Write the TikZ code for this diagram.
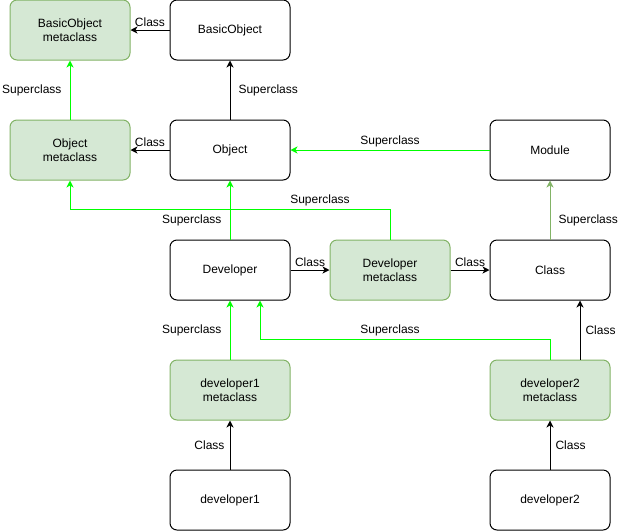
\documentclass[tikz,border=0pt]{standalone}
\usepackage{fontspec}
\setmainfont{Liberation Sans}
\usetikzlibrary{arrows.meta}

\definecolor{metafill}{HTML}{D5E8D4}
\definecolor{metadraw}{HTML}{82B366}
\definecolor{superline}{HTML}{00FF00}

\tikzset{
  box/.style={draw=black, line width=1pt, rounded corners=7pt, fill=white,
    minimum width=120pt, minimum height=60pt, align=center,
    font=\fontsize{12}{14}\selectfont},
  metabox/.style={box, draw=metadraw, fill=metafill},
  classedge/.style={draw=black, line width=1pt, -{Stealth[length=7pt,width=7pt,inset=2pt]}},
  superedge/.style={classedge, draw=superline, -{Stealth[length=7pt,width=7pt,inset=2pt,fill=superline]}},
  moduleedge/.style={classedge, draw=metadraw, -{Stealth[length=7pt,width=7pt,inset=2pt,fill=metadraw]}},
  lbl/.style={font=\fontsize{12}{14}\selectfont, inner sep=1pt, text=black}
}

\begin{document}
\begin{tikzpicture}[x=1pt,y=-1pt]
\useasboundingbox (0,0) rectangle (621,531);
\node[metabox] (BOMeta) at (70,30) {BasicObject\\metaclass};
\node[box] (BO) at (230,30) {BasicObject};
\node[metabox] (OMeta) at (70,150) {Object\\metaclass};
\node[box] (Obj) at (230,150) {Object};
\node[box] (Mod) at (550,150) {Module};
\node[box] (Dev) at (230,270) {Developer};
\node[metabox] (DevMeta) at (390,270) {Developer\\metaclass};
\node[box] (Cls) at (550,270) {Class};
\node[metabox] (D1Meta) at (230,390) {developer1\\metaclass};
\node[metabox] (D2Meta) at (550,390) {developer2\\metaclass};
\node[box] (D1) at (230,500) {developer1};
\node[box] (D2) at (550,500) {developer2};

\draw[classedge] (BO.west) -- node[lbl, above=2pt] {Class} (BOMeta.east);
\draw[superedge] (OMeta.north) -- node[lbl, left=7pt] {Superclass} (BOMeta.south);
\draw[classedge] (Obj.north) -- node[lbl, right=7pt] {Superclass} (BO.south);
\draw[classedge] (Obj.west) -- node[lbl, above=2pt] {Class} (OMeta.east);
\draw[superedge] (Mod.west) -- node[lbl, above=2pt] {Superclass} (Obj.east);
\draw[superedge] (Dev.north) -- node[lbl, left=7pt, pos=0.33] {Superclass} (Obj.south);
\draw[superedge] (DevMeta.north) -- ++(0,-30) node[lbl, above=2pt, xshift=-70pt] {Superclass} -| (OMeta.south);
\draw[classedge] (Dev.east) -- node[lbl, above=2pt] {Class} (DevMeta.west);
\draw[classedge] (DevMeta.east) -- node[lbl, above=2pt] {Class} (Cls.west);
\draw[moduleedge] (Cls.north) -- node[lbl, right=7pt, pos=0.33] {Superclass} (Mod.south);
\draw[superedge] (D1Meta.north) -- node[lbl, left=7pt] {Superclass} (Dev.south);
\draw[superedge] (D2Meta.north) -- ++(0,-20) node[lbl, above=2pt, xshift=-160pt] {Superclass} -| ([xshift=30pt]Dev.south);
\draw[classedge] ([xshift=30pt]D2Meta.north) -- node[lbl, right=4pt] {Class} ([xshift=30pt]Cls.south);
\draw[classedge] (D1.north) -- node[lbl, left=4pt] {Class} (D1Meta.south);
\draw[classedge] (D2.north) -- node[lbl, right=4pt] {Class} (D2Meta.south);
\end{tikzpicture}
\end{document}
